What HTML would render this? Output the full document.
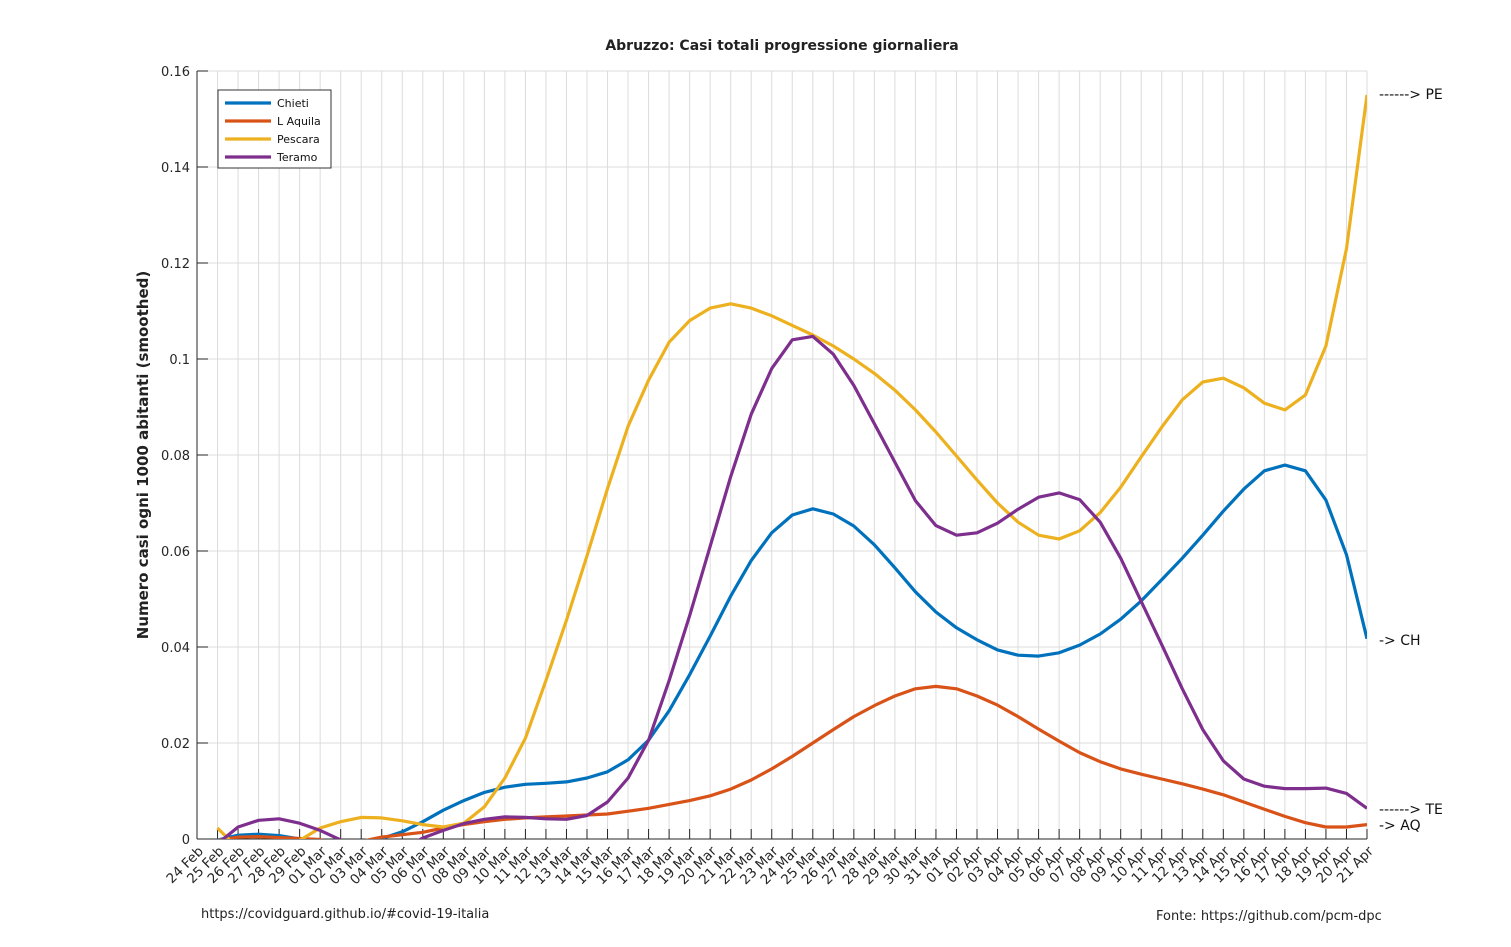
<!DOCTYPE html>
<html><head><meta charset="utf-8"><style>
body{margin:0;background:#fff;font-family:"Liberation Sans","DejaVu Sans",sans-serif}
svg text{font-family:"DejaVu Sans","Liberation Sans",sans-serif}
</style></head><body>
<svg id="chart" width="1511" height="942" xmlns="http://www.w3.org/2000/svg">
<rect width="1511" height="942" fill="#fff"/>
<text x="782" y="50" text-anchor="middle" font-size="14" font-weight="bold" fill="#222">Abruzzo: Casi totali progressione giornaliera</text>
<text transform="translate(148,455) rotate(-90)" text-anchor="middle" font-size="15" font-weight="bold" fill="#222">Numero casi ogni 1000 abitanti (smoothed)</text>
<g id="grid"></g><g id="axes"></g>
<defs><clipPath id="pc"><rect x="197" y="71" width="1170" height="768"/></clipPath></defs>
<g id="series" clip-path="url(#pc)"></g>
<g id="legend">
<rect x="218" y="90" width="113" height="78" fill="#fff" stroke="#333" stroke-width="1"/>
</g>
<text x="1379" y="99" font-size="14" fill="#111">------&gt; PE</text>
<text x="1379" y="645" font-size="14" fill="#111">-&gt; CH</text>
<text x="1379" y="814" font-size="14" fill="#111">------&gt; TE</text>
<text x="1379" y="830" font-size="14" fill="#111">-&gt; AQ</text>
<text x="201" y="918" font-size="13" fill="#222">https://covidguard.github.io/#covid-19-italia</text>
<text x="1156" y="920" font-size="13" fill="#222">Fonte: https://github.com/pcm-dpc</text>
</svg>
<script>
const categories=["24 Feb","25 Feb","26 Feb","27 Feb","28 Feb","29 Feb","01 Mar","02 Mar","03 Mar","04 Mar","05 Mar","06 Mar","07 Mar","08 Mar","09 Mar","10 Mar","11 Mar","12 Mar","13 Mar","14 Mar","15 Mar","16 Mar","17 Mar","18 Mar","19 Mar","20 Mar","21 Mar","22 Mar","23 Mar","24 Mar","25 Mar","26 Mar","27 Mar","28 Mar","29 Mar","30 Mar","31 Mar","01 Apr","02 Apr","03 Apr","04 Apr","05 Apr","06 Apr","07 Apr","08 Apr","09 Apr","10 Apr","11 Apr","12 Apr","13 Apr","14 Apr","15 Apr","16 Apr","17 Apr","18 Apr","19 Apr","20 Apr","21 Apr"];
const yTicks=[0,0.02,0.04,0.06,0.08,0.1,0.12,0.14,0.16];
const yTickLabels=["0","0.02","0.04","0.06","0.08","0.1","0.12","0.14","0.16"];
const seriesNames=["Chieti","L Aquila","Pescara","Teramo"];
const chieti=[null,-0.0002,0.0008,0.001,0.0007,0.0,-0.002,-0.003,-0.002,0.0001,0.0015,0.0036,0.006,0.008,0.0097,0.0108,0.0114,0.0116,0.0119,0.0127,0.014,0.0165,0.0206,0.0267,0.0342,0.0423,0.0506,0.058,0.0638,0.0675,0.0688,0.0677,0.0652,0.0613,0.0565,0.0515,0.0473,0.044,0.0415,0.0394,0.0383,0.0381,0.0388,0.0404,0.0427,0.0458,0.0496,0.054,0.0585,0.0633,0.0683,0.0729,0.0767,0.0779,0.0767,0.0706,0.0592,0.0417];
const laquila=[null,-0.0003,0.0004,0.0005,0.0003,0.0001,-0.0001,-0.002,-0.0005,0.0004,0.0009,0.0014,0.0023,0.003,0.0036,0.0041,0.0044,0.0046,0.0048,0.005,0.0052,0.0058,0.0064,0.0072,0.008,0.009,0.0104,0.0123,0.0146,0.0172,0.02,0.0228,0.0255,0.0278,0.0298,0.0313,0.0318,0.0313,0.0298,0.0279,0.0255,0.0229,0.0204,0.018,0.0161,0.0146,0.0135,0.0125,0.0115,0.0104,0.0092,0.0077,0.0062,0.0047,0.0034,0.0025,0.0025,0.003];
const pescara=[null,0.0023,-0.002,-0.003,-0.002,-0.0003,0.0023,0.0036,0.0045,0.0044,0.0038,0.003,0.0025,0.0033,0.0067,0.0127,0.021,0.033,0.0456,0.059,0.073,0.086,0.0956,0.1035,0.108,0.1106,0.1115,0.1106,0.109,0.107,0.105,0.1027,0.1,0.097,0.0935,0.0894,0.0848,0.0798,0.0748,0.07,0.066,0.0633,0.0625,0.0642,0.068,0.0733,0.0796,0.0858,0.0915,0.0952,0.096,0.094,0.0908,0.0894,0.0925,0.1027,0.123,0.155];
const teramo=[null,-0.001,0.0025,0.0039,0.0042,0.0033,0.0018,-0.0002,-0.004,-0.004,-0.002,0.0002,0.0018,0.0032,0.0041,0.0046,0.0045,0.0042,0.0041,0.0049,0.0077,0.0127,0.0206,0.033,0.0465,0.061,0.0755,0.0885,0.098,0.104,0.1047,0.101,0.0945,0.0865,0.0785,0.0705,0.0653,0.0633,0.0638,0.0658,0.0687,0.0712,0.0721,0.0707,0.066,0.0585,0.0495,0.0405,0.0313,0.0228,0.0163,0.0125,0.011,0.0105,0.0105,0.0106,0.0095,0.0064];
const colors=["#0072BD","#D95319","#EDB120","#7E2F8E"];
const NS="http://www.w3.org/2000/svg";
const L=197,R=1367,T=71,B=839,YMAX=0.16;
function xs(i){return L+(R-L)*i/(categories.length-1);}
function ys(v){return B-(B-T)*v/YMAX;}
function mk(tag,attrs,parent){const e=document.createElementNS(NS,tag);for(const k in attrs)e.setAttribute(k,attrs[k]);parent.appendChild(e);return e;}
const grid=document.getElementById('grid'),axes=document.getElementById('axes'),ser=document.getElementById('series'),leg=document.getElementById('legend');
categories.forEach((c,i)=>{
  const g=mk('line',{x1:xs(i),x2:xs(i),y1:T,y2:B,stroke:'#dcdcdc','stroke-width':1},grid);
  
  
  const t=mk('line',{x1:xs(i),x2:xs(i),y1:B,y2:B-10,stroke:'#262626','stroke-width':1},axes);
  
  
  const lb=mk('text',{transform:`translate(${xs(i)+7},${B+13}) rotate(-45)`,'text-anchor':'end','font-size':13.5,fill:'#262626'},axes);
  lb.textContent=c;
  
  
});
yTicks.forEach((v,i)=>{
  const g=mk('line',{x1:L,x2:R,y1:ys(v),y2:ys(v),stroke:'#dcdcdc','stroke-width':1},grid);
  
  
  const t=mk('line',{x1:L,x2:L+11,y1:ys(v),y2:ys(v),stroke:'#262626','stroke-width':1},axes);
  
  
  const lb=mk('text',{x:L-7,y:ys(v)+5,'text-anchor':'end','font-size':13,fill:'#262626'},axes);
  lb.textContent=yTickLabels[i];
  
  
});
const xa=mk('line',{x1:L,x2:R,y1:B,y2:B,stroke:'#262626','stroke-width':1},axes);


const ya=mk('line',{x1:L,x2:L,y1:T,y2:B,stroke:'#262626','stroke-width':1},axes);


[chieti,laquila,pescara,teramo].forEach((arr,s)=>{
  let d='',pen=false;
  arr.forEach((v,i)=>{if(v===null){pen=false;return;}d+=(pen?'L':'M')+xs(i).toFixed(1)+' '+ys(v).toFixed(1)+' ';pen=true;});
  const p=mk('path',{d:d,fill:'none',stroke:colors[s],'stroke-width':3.2,'stroke-linejoin':'round'},ser);
  
  
  const y=103+18*s;
  const ll=mk('line',{x1:225,x2:271,y1:y,y2:y,stroke:colors[s],'stroke-width':3.2},leg);
  
  
  const lt=mk('text',{x:277,y:y+4,'font-size':11,fill:'#111'},leg);
  lt.textContent=seriesNames[s];
  
  
});
</script>
</body></html>
